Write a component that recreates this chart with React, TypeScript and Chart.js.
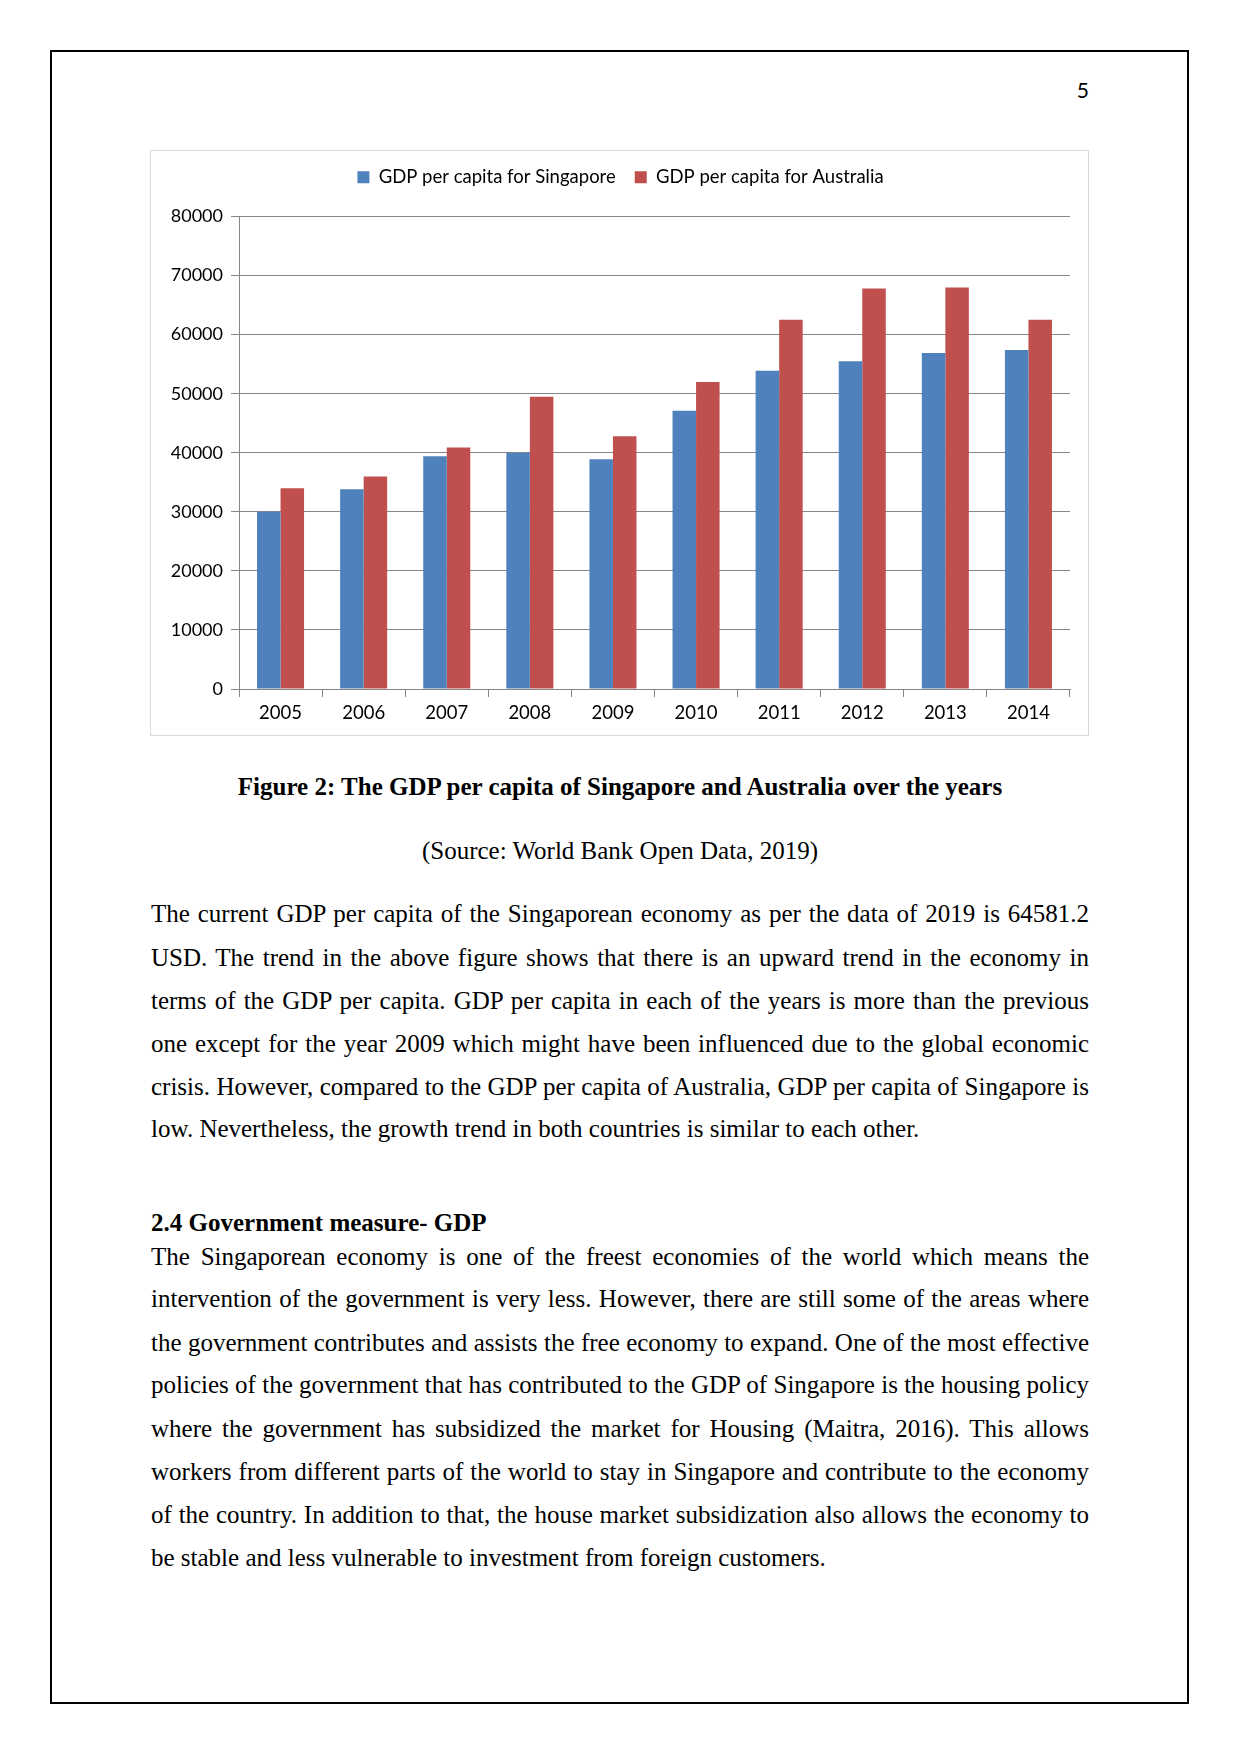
import React, { useEffect, useRef } from "react";
import { Chart, registerables } from "chart.js";

Chart.register(...registerables);

const years = ["2005", "2006", "2007", "2008", "2009", "2010", "2011", "2012", "2013", "2014"];
const singapore = [30000, 33800, 39400, 40000, 38900, 47100, 53900, 55500, 56900, 57400];
const australia = [34000, 36000, 40900, 49500, 42800, 52000, 62500, 67800, 68000, 62500];
const seriesNames = ["GDP per capita for Singapore", "GDP per capita for Australia"];
const yMin = 0;
const yMax = 80000;
const yStep = 10000;

const para1 = [
  "The current GDP per capita of the Singaporean economy as per the data of 2019 is 64581.2",
  "USD. The trend in the above figure shows that there is an upward trend in the economy in",
  "terms of the GDP per capita. GDP per capita in each of the years is more than the previous",
  "one except for the year 2009 which might have been influenced due to the global economic",
  "crisis. However, compared to the GDP per capita of Australia, GDP per capita of Singapore is",
  "low. Nevertheless, the growth trend in both countries is similar to each other.",
];
const para1Y = [915, 959, 1002, 1045, 1088, 1130];

const para2 = [
  "The Singaporean economy is one of the freest economies of the world which means the",
  "intervention of the government is very less. However, there are still some of the areas where",
  "the government contributes and assists the free economy to expand. One of the most effective",
  "policies of the government that has contributed to the GDP of Singapore is the housing policy",
  "where the government has subsidized the market for Housing (Maitra, 2016). This allows",
  "workers from different parts of the world to stay in Singapore and contribute to the economy",
  "of the country. In addition to that, the house market subsidization also allows the economy to",
  "be stable and less vulnerable to investment from foreign customers.",
];
const para2Y = [1258, 1300, 1344, 1386, 1430, 1473, 1516, 1559];

const TEXT_LEFT = 151;
const TEXT_WIDTH = 938;

function Line({ text, y, last, bold, center }: { text: string; y: number; last?: boolean; bold?: boolean; center?: boolean }) {
  return (
    <div
      style={{
        position: "absolute",
        left: TEXT_LEFT,
        top: y - 23,
        width: TEXT_WIDTH,
        height: 43,
        lineHeight: "43px",
        fontFamily: "'Liberation Serif', 'Times New Roman', serif",
        fontSize: 25,
        fontWeight: bold ? "bold" : "normal",
        color: "#000",
        textAlign: center ? "center" : last ? "left" : "justify",
        textAlignLast: center ? "center" : last ? "left" : "justify",
        whiteSpace: "nowrap",
      }}
    >
      {text}
    </div>
  );
}

const legendMargin = {
  id: "legendMargin",
  beforeInit(chart: any) {
    const legend = chart.legend;
    if (!legend) return;
    const origFit = legend.fit;
    legend.fit = function () {
      origFit.call(this);
      this.height += 18;
    };
  },
  afterLayout(chart: any) {
    const legend = chart.legend;
    if (!legend) return;
    legend.left += 10;
    legend.right += 10;
    legend.top -= 2;
    legend.bottom -= 2;
  },
};

export default function App() {
  const ref = useRef<HTMLCanvasElement | null>(null);

  useEffect(() => {
    if (!ref.current) return;
    const chart = new Chart(ref.current, {
      type: "bar",
      data: {
        labels: years,
        datasets: [
          { label: seriesNames[0], data: singapore, backgroundColor: "#4F81BD", borderWidth: 0 },
          { label: seriesNames[1], data: australia, backgroundColor: "#C0504D", borderWidth: 0 },
        ],
      },
      plugins: [legendMargin],
      options: {
        responsive: false,
        animation: false,
        devicePixelRatio: 1,
        layout: { padding: { top: 0, right: 18, left: 0, bottom: 0 } },
        datasets: { bar: { categoryPercentage: 0.566, barPercentage: 1 } },
        plugins: {
          legend: {
            position: "top",
            labels: {
              boxWidth: 12,
              boxHeight: 12,
              padding: 19,
              color: "#000",
              font: { family: "Lato", size: 18.5 },
            },
          },
          tooltip: { enabled: false },
        },
        scales: {
          x: {
            grid: {
              display: true,
              drawOnChartArea: false,
              drawTicks: true,
              tickLength: 8,
              color: "#868686",
              offset: true,
            },
            border: { display: true, color: "#868686" },
            ticks: { color: "#000", font: { family: "Lato", size: 18.5 }, padding: 5, maxRotation: 0 },
            afterFit: (s: any) => {
              s.height = 46;
            },
          },
          y: {
            min: yMin,
            max: yMax,
            ticks: {
              stepSize: yStep,
              color: "#000",
              font: { family: "Lato", size: 18 },
              padding: 8,
              callback: (v: any) => String(v),
            },
            grid: { color: "#868686", tickLength: 8, drawTicks: true },
            border: { display: true, color: "#868686" },
            afterFit: (s: any) => {
              s.width = 88;
            },
          },
        },
      },
    });
    return () => chart.destroy();
  }, []);

  return (
    <div style={{ position: "absolute", left: 0, top: 0, width: 1241, height: 1754, background: "#fff" }}>
      <div
        style={{
          position: "absolute",
          left: 50,
          top: 50,
          width: 1139,
          height: 1654,
          border: "2px solid #000",
          boxSizing: "border-box",
        }}
      />
      <div
        style={{
          position: "absolute",
          left: 1000,
          width: 89,
          top: 76,
          height: 28,
          lineHeight: "28px",
          textAlign: "right",
          fontFamily: "Lato",
          fontSize: 21,
          color: "#000",
        }}
      >
        5
      </div>
      <div
        style={{
          position: "absolute",
          left: 150,
          top: 150,
          width: 939,
          height: 586,
          border: "1px solid #d9d9d9",
          boxSizing: "border-box",
        }}
      >
        <canvas ref={ref} width={937} height={584} style={{ display: "block", width: 937, height: 584 }} />
      </div>
      <Line text="Figure 2: The GDP per capita of Singapore and Australia over the years" y={788} bold center />
      <Line text="(Source: World Bank Open Data, 2019)" y={852} center />
      {para1.map((t, i) => (
        <Line key={"a" + i} text={t} y={para1Y[i]} last={i === para1.length - 1} />
      ))}
      <Line text="2.4 Government measure- GDP" y={1224} bold last />
      {para2.map((t, i) => (
        <Line key={"b" + i} text={t} y={para2Y[i]} last={i === para2.length - 1} />
      ))}
    </div>
  );
}
